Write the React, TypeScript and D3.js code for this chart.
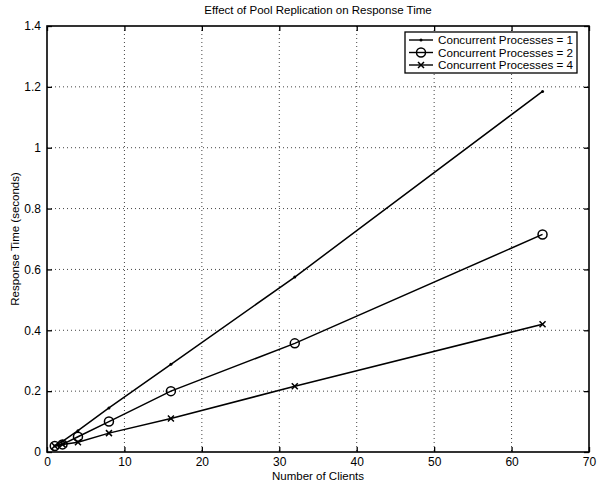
import * as d3 from "d3";
import React, { useEffect, useRef } from "react";

const clients = [1, 2, 4, 8, 16, 32, 64];
const proc1 = [0.02, 0.035, 0.07, 0.145, 0.288, 0.575, 1.185];
const proc2 = [0.02, 0.025, 0.05, 0.1, 0.2, 0.357, 0.715];
const proc4 = [0.02, 0.025, 0.032, 0.062, 0.11, 0.216, 0.42];
const seriesNames = [
  "Concurrent Processes = 1",
  "Concurrent Processes = 2",
  "Concurrent Processes = 4",
];
const xTicks = [0, 10, 20, 30, 40, 50, 60, 70];
const yTicks = [0, 0.2, 0.4, 0.6, 0.8, 1, 1.2, 1.4];

const FONT = "'Liberation Sans', Arial, Helvetica, sans-serif";

export default function App() {
  const ref = useRef<SVGSVGElement>(null);

  useEffect(() => {
    const width = 597;
    const height = 484;
    const margin = { top: 26, right: 8, bottom: 32, left: 47 };
    const w = width - margin.left - margin.right;
    const h = height - margin.top - margin.bottom;

    const root = d3.select(ref.current);
    root.selectAll("*").remove();
    root.append("rect").attr("width", width).attr("height", height).attr("fill", "#fff");

    const svg = root
      .append("g")
      .attr("transform", `translate(${margin.left},${margin.top})`);

    const x = d3.scaleLinear().domain([0, 70]).range([0, w]);
    const y = d3.scaleLinear().domain([0, 1.4]).range([h, 0]);

    // grid
    const grid = svg.append("g").attr("stroke", "#444").attr("stroke-dasharray", "1,3").attr("stroke-width", 1);
    xTicks.slice(1, -1).forEach((t) => {
      grid.append("line").attr("x1", x(t)).attr("x2", x(t)).attr("y1", 0).attr("y2", h);
    });
    yTicks.slice(1, -1).forEach((t) => {
      grid.append("line").attr("y1", y(t)).attr("y2", y(t)).attr("x1", 0).attr("x2", w);
    });

    // axes with inside ticks
    const axisStyle = (g: any) => {
      g.select(".domain").remove();
      g.selectAll("line").attr("stroke", "#000").attr("stroke-width", 1.3);
      g.selectAll("text")
        .attr("font-family", FONT)
        .attr("font-size", 12)
        .attr("fill", "#000");
    };
    svg
      .append("g")
      .attr("transform", `translate(0,${h})`)
      .call(d3.axisBottom(x).tickValues(xTicks).tickSize(-5).tickPadding(5))
      .call(axisStyle);
    svg
      .append("g")
      .call(d3.axisTop(x).tickValues(xTicks).tickSize(-5).tickFormat(() => ""))
      .call(axisStyle);
    svg
      .append("g")
      .call(d3.axisLeft(y).tickValues(yTicks).tickSize(-5).tickPadding(6).tickFormat(d3.format("~g")))
      .call(axisStyle);
    svg
      .append("g")
      .attr("transform", `translate(${w},0)`)
      .call(d3.axisRight(y).tickValues(yTicks).tickSize(-5).tickFormat(() => ""))
      .call(axisStyle);

    svg
      .append("rect")
      .attr("width", w)
      .attr("height", h)
      .attr("fill", "none")
      .attr("stroke", "#000")
      .attr("stroke-width", 1.6);

    const line = d3
      .line<number>()
      .x((_, i) => x(clients[i]))
      .y((d) => y(d));

    const allSeries = [proc1, proc2, proc4];
    const markers = ["dot", "circle", "cross"];

    const drawMarker = (g: any, kind: string, cx: number, cy: number) => {
      if (kind === "dot") {
        g.append("circle").attr("cx", cx).attr("cy", cy).attr("r", 1.5).attr("fill", "#000");
      } else if (kind === "circle") {
        g.append("circle")
          .attr("cx", cx)
          .attr("cy", cy)
          .attr("r", 4.5)
          .attr("fill", "none")
          .attr("stroke", "#000")
          .attr("stroke-width", 1.5);
      } else {
        const s = 3;
        g.append("path")
          .attr("d", `M${cx - s},${cy - s}L${cx + s},${cy + s}M${cx - s},${cy + s}L${cx + s},${cy - s}`)
          .attr("stroke", "#000")
          .attr("stroke-width", 1.5);
      }
    };

    allSeries.forEach((vals, si) => {
      svg
        .append("path")
        .datum(vals)
        .attr("d", line)
        .attr("fill", "none")
        .attr("stroke", "#000")
        .attr("stroke-width", 1.5);
      const mg = svg.append("g");
      vals.forEach((v, i) => drawMarker(mg, markers[si], x(clients[i]), y(v)));
    });

    // legend
    const lg = svg.append("g").attr("transform", `translate(${w - 184},6)`);
    lg.append("rect")
      .attr("width", 172)
      .attr("height", 41)
      .attr("fill", "#fff")
      .attr("stroke", "#000")
      .attr("stroke-width", 1.3);
    seriesNames.forEach((name, i) => {
      const ly = 8 + i * 12.5;
      lg.append("line")
        .attr("x1", 4)
        .attr("x2", 28)
        .attr("y1", ly)
        .attr("y2", ly)
        .attr("stroke", "#000")
        .attr("stroke-width", 1.4);
      drawMarker(lg, markers[i], 16, ly);
      lg.append("text")
        .attr("x", 33)
        .attr("y", ly + 4)
        .attr("font-family", FONT)
        .attr("font-size", 11)
        .attr("textLength", 135)
        .attr("lengthAdjust", "spacingAndGlyphs")
        .text(name);
    });

    // title and labels
    root
      .append("text")
      .attr("x", margin.left + w / 2)
      .attr("y", 14)
      .attr("text-anchor", "middle")
      .attr("font-family", FONT)
      .attr("font-size", 11.5)
      .text("Effect of Pool Replication on Response Time");
    root
      .append("text")
      .attr("x", margin.left + w / 2)
      .attr("y", 480)
      .attr("text-anchor", "middle")
      .attr("font-family", FONT)
      .attr("font-size", 11.5)
      .text("Number of Clients");
    root
      .append("text")
      .attr("transform", `translate(19,${margin.top + h / 2}) rotate(-90)`)
      .attr("text-anchor", "middle")
      .attr("font-family", FONT)
      .attr("font-size", 11.5)
      .text("Response Time (seconds)");
  }, []);

  return (
    <svg
      ref={ref}
      width={597}
      height={484}
      style={{ position: "absolute", left: 0, top: 0, display: "block" }}
    />
  );
}
